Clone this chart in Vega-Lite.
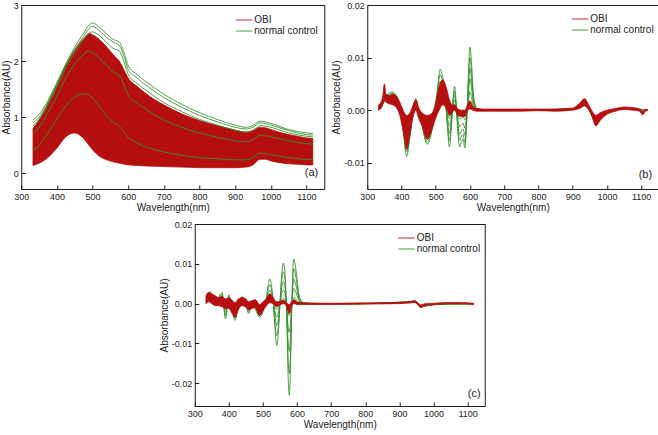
{
  "$schema": "https://vega.github.io/schema/vega-lite/v6.json",
  "padding": 0,
  "autosize": {"type": "pad"},
  "background": "white",
  "config": {
    "font": "Liberation Sans",
    "view": {"stroke": "#1a1a1a", "strokeWidth": 1},
    "axis": {"domain": false, "grid": false, "ticks": true, "tickColor": "#1a1a1a", "tickSize": -4, "labelPadding": 7, "labelFontSize": 9, "labelColor": "#222", "labelFlush": false, "labelOverlap": false, "titleFontSize": 10, "titleFontWeight": "normal", "titleColor": "#222"},
    "axisX": {"titlePadding": 1, "format": "d"},
    "axisY": {"titlePadding": 2},
    "legend": {"orient": "none", "symbolType": "M-1,0H2", "symbolStrokeWidth": 1, "symbolSize": 121, "labelFontSize": 10, "labelColor": "#222", "rowPadding": 0, "padding": 0, "labelOffset": 7},
    "line": {"strokeWidth": 0.9, "interpolate": "monotone"}
  },
  "datasets": {
    "aBand": [{"w":333,"lo":0.14,"hi":0.8},{"w":350,"lo":0.18,"hi":0.95},{"w":375,"lo":0.28,"hi":1.25},{"w":400,"lo":0.45,"hi":1.58},{"w":425,"lo":0.65,"hi":1.93},{"w":450,"lo":0.72,"hi":2.2},{"w":475,"lo":0.62,"hi":2.4},{"w":490,"lo":0.5,"hi":2.49},{"w":500,"lo":0.42,"hi":2.47},{"w":520,"lo":0.3,"hi":2.38},{"w":540,"lo":0.24,"hi":2.25},{"w":560,"lo":0.2,"hi":2.1},{"w":575,"lo":0.18,"hi":2.0},{"w":590,"lo":0.16,"hi":1.82},{"w":600,"lo":0.15,"hi":1.7},{"w":625,"lo":0.14,"hi":1.55},{"w":650,"lo":0.13,"hi":1.42},{"w":700,"lo":0.12,"hi":1.22},{"w":750,"lo":0.11,"hi":1.06},{"w":800,"lo":0.1,"hi":0.94},{"w":850,"lo":0.1,"hi":0.85},{"w":900,"lo":0.1,"hi":0.77},{"w":930,"lo":0.11,"hi":0.73},{"w":950,"lo":0.15,"hi":0.76},{"w":970,"lo":0.25,"hi":0.82},{"w":985,"lo":0.25,"hi":0.81},{"w":1000,"lo":0.22,"hi":0.78},{"w":1025,"lo":0.19,"hi":0.73},{"w":1050,"lo":0.17,"hi":0.69},{"w":1075,"lo":0.16,"hi":0.66},{"w":1100,"lo":0.15,"hi":0.63},{"w":1118,"lo":0.15,"hi":0.62}],
    "aLines": [
      {"s":1,"w":333,"v":0.95},{"s":1,"w":350,"v":1.05},{"s":1,"w":375,"v":1.3},{"s":1,"w":400,"v":1.62},{"s":1,"w":425,"v":1.95},{"s":1,"w":450,"v":2.25},{"s":1,"w":475,"v":2.5},{"s":1,"w":490,"v":2.64},{"s":1,"w":500,"v":2.68},{"s":1,"w":520,"v":2.6},{"s":1,"w":540,"v":2.48},{"s":1,"w":560,"v":2.38},{"s":1,"w":575,"v":2.34},{"s":1,"w":590,"v":2.12},{"s":1,"w":600,"v":1.92},{"s":1,"w":625,"v":1.76},{"s":1,"w":650,"v":1.63},{"s":1,"w":700,"v":1.41},{"s":1,"w":750,"v":1.23},{"s":1,"w":800,"v":1.08},{"s":1,"w":850,"v":0.96},{"s":1,"w":900,"v":0.86},{"s":1,"w":930,"v":0.82},{"s":1,"w":950,"v":0.85},{"s":1,"w":970,"v":0.93},{"s":1,"w":1000,"v":0.89},{"s":1,"w":1050,"v":0.78},{"s":1,"w":1100,"v":0.72},{"s":1,"w":1118,"v":0.71},
      {"s":2,"w":333,"v":0.9},{"s":2,"w":350,"v":1.0},{"s":2,"w":375,"v":1.26},{"s":2,"w":400,"v":1.58},{"s":2,"w":425,"v":1.92},{"s":2,"w":450,"v":2.2},{"s":2,"w":475,"v":2.44},{"s":2,"w":490,"v":2.58},{"s":2,"w":500,"v":2.62},{"s":2,"w":520,"v":2.54},{"s":2,"w":540,"v":2.42},{"s":2,"w":560,"v":2.33},{"s":2,"w":575,"v":2.28},{"s":2,"w":590,"v":2.05},{"s":2,"w":600,"v":1.85},{"s":2,"w":625,"v":1.7},{"s":2,"w":650,"v":1.57},{"s":2,"w":700,"v":1.35},{"s":2,"w":750,"v":1.18},{"s":2,"w":800,"v":1.03},{"s":2,"w":850,"v":0.92},{"s":2,"w":900,"v":0.82},{"s":2,"w":930,"v":0.79},{"s":2,"w":950,"v":0.82},{"s":2,"w":970,"v":0.9},{"s":2,"w":1000,"v":0.86},{"s":2,"w":1050,"v":0.76},{"s":2,"w":1100,"v":0.69},{"s":2,"w":1118,"v":0.68},
      {"s":3,"w":333,"v":0.85},{"s":3,"w":350,"v":0.96},{"s":3,"w":375,"v":1.22},{"s":3,"w":400,"v":1.54},{"s":3,"w":425,"v":1.88},{"s":3,"w":450,"v":2.15},{"s":3,"w":475,"v":2.38},{"s":3,"w":490,"v":2.5},{"s":3,"w":500,"v":2.52},{"s":3,"w":520,"v":2.45},{"s":3,"w":540,"v":2.33},{"s":3,"w":560,"v":2.22},{"s":3,"w":575,"v":2.18},{"s":3,"w":590,"v":1.95},{"s":3,"w":600,"v":1.76},{"s":3,"w":625,"v":1.6},{"s":3,"w":650,"v":1.48},{"s":3,"w":700,"v":1.26},{"s":3,"w":750,"v":1.1},{"s":3,"w":800,"v":0.96},{"s":3,"w":850,"v":0.86},{"s":3,"w":900,"v":0.77},{"s":3,"w":930,"v":0.74},{"s":3,"w":950,"v":0.77},{"s":3,"w":970,"v":0.85},{"s":3,"w":1000,"v":0.82},{"s":3,"w":1050,"v":0.72},{"s":3,"w":1100,"v":0.66},{"s":3,"w":1118,"v":0.65},
      {"s":4,"w":333,"v":0.7},{"s":4,"w":350,"v":0.82},{"s":4,"w":375,"v":1.08},{"s":4,"w":400,"v":1.38},{"s":4,"w":425,"v":1.7},{"s":4,"w":450,"v":1.95},{"s":4,"w":475,"v":2.12},{"s":4,"w":490,"v":2.18},{"s":4,"w":500,"v":2.15},{"s":4,"w":520,"v":2.05},{"s":4,"w":540,"v":1.92},{"s":4,"w":560,"v":1.8},{"s":4,"w":575,"v":1.75},{"s":4,"w":590,"v":1.55},{"s":4,"w":600,"v":1.4},{"s":4,"w":625,"v":1.25},{"s":4,"w":650,"v":1.14},{"s":4,"w":700,"v":0.95},{"s":4,"w":750,"v":0.82},{"s":4,"w":800,"v":0.72},{"s":4,"w":850,"v":0.64},{"s":4,"w":900,"v":0.58},{"s":4,"w":930,"v":0.56},{"s":4,"w":950,"v":0.6},{"s":4,"w":970,"v":0.68},{"s":4,"w":1000,"v":0.65},{"s":4,"w":1050,"v":0.58},{"s":4,"w":1100,"v":0.53},{"s":4,"w":1118,"v":0.52},
      {"s":6,"w":333,"v":0.4},{"s":6,"w":350,"v":0.5},{"s":6,"w":375,"v":0.72},{"s":6,"w":400,"v":0.97},{"s":6,"w":425,"v":1.2},{"s":6,"w":450,"v":1.36},{"s":6,"w":475,"v":1.42},{"s":6,"w":490,"v":1.4},{"s":6,"w":500,"v":1.34},{"s":6,"w":520,"v":1.18},{"s":6,"w":540,"v":1.02},{"s":6,"w":560,"v":0.9},{"s":6,"w":575,"v":0.84},{"s":6,"w":590,"v":0.72},{"s":6,"w":600,"v":0.64},{"s":6,"w":625,"v":0.54},{"s":6,"w":650,"v":0.47},{"s":6,"w":700,"v":0.38},{"s":6,"w":750,"v":0.32},{"s":6,"w":800,"v":0.28},{"s":6,"w":850,"v":0.26},{"s":6,"w":900,"v":0.24},{"s":6,"w":930,"v":0.24},{"s":6,"w":950,"v":0.28},{"s":6,"w":970,"v":0.36},{"s":6,"w":1000,"v":0.33},{"s":6,"w":1050,"v":0.28},{"s":6,"w":1100,"v":0.25},{"s":6,"w":1118,"v":0.25}
    ],
    "bBand": [{"w":333,"lo":0.0,"hi":0.001},{"w":340,"lo":0.0003,"hi":0.0015},{"w":345,"lo":0.001,"hi":0.0025},{"w":350,"lo":0.0018,"hi":0.005},{"w":355,"lo":0.0015,"hi":0.003},{"w":365,"lo":0.0012,"hi":0.0028},{"w":375,"lo":0.001,"hi":0.003},{"w":385,"lo":0.0005,"hi":0.0027},{"w":395,"lo":-0.001,"hi":0.0015},{"w":405,"lo":-0.004,"hi":0.0},{"w":415,"lo":-0.0075,"hi":-0.001},{"w":425,"lo":-0.0045,"hi":-0.0005},{"w":435,"lo":-0.001,"hi":0.0012},{"w":442,"lo":0.0,"hi":0.002},{"w":450,"lo":-0.0015,"hi":0.0005},{"w":460,"lo":-0.003,"hi":-0.0005},{"w":475,"lo":-0.0055,"hi":-0.001},{"w":490,"lo":-0.0035,"hi":-0.0005},{"w":500,"lo":-0.0015,"hi":0.0015},{"w":510,"lo":0.0,"hi":0.0045},{"w":520,"lo":0.001,"hi":0.0058},{"w":530,"lo":0.0005,"hi":0.0045},{"w":540,"lo":-0.001,"hi":0.002},{"w":548,"lo":-0.0005,"hi":0.001},{"w":555,"lo":0.0,"hi":0.001},{"w":565,"lo":-0.001,"hi":0.0002},{"w":575,"lo":-0.0012,"hi":0.0},{"w":585,"lo":-0.0012,"hi":0.0},{"w":592,"lo":-0.0002,"hi":0.0008},{"w":600,"lo":0.0002,"hi":0.0018},{"w":608,"lo":0.0,"hi":0.0008},{"w":620,"lo":-0.0002,"hi":0.0003},{"w":650,"lo":-0.0002,"hi":0.0002},{"w":700,"lo":-0.0002,"hi":0.0002},{"w":750,"lo":-0.0002,"hi":0.0002},{"w":800,"lo":-0.0001,"hi":0.0002},{"w":850,"lo":-0.0002,"hi":0.0002},{"w":900,"lo":0.0,"hi":0.0004},{"w":920,"lo":0.0003,"hi":0.0013},{"w":935,"lo":0.0008,"hi":0.0022},{"w":945,"lo":0.0002,"hi":0.0012},{"w":955,"lo":-0.001,"hi":0.0},{"w":968,"lo":-0.003,"hi":-0.001},{"w":980,"lo":-0.002,"hi":-0.0005},{"w":1000,"lo":-0.0008,"hi":0.0},{"w":1025,"lo":-0.0002,"hi":0.0003},{"w":1050,"lo":0.0001,"hi":0.0006},{"w":1075,"lo":0.0,"hi":0.0005},{"w":1095,"lo":-0.0002,"hi":0.0002},{"w":1105,"lo":-0.0009,"hi":-0.0002},{"w":1112,"lo":-0.0002,"hi":0.0001},{"w":1118,"lo":-0.0001,"hi":0.0002}],
    "bLines": [
      {"s":1,"w":333,"v":0.0003},{"s":1,"w":340,"v":0.001},{"s":1,"w":350,"v":0.0025},{"s":1,"w":360,"v":0.003},{"s":1,"w":372,"v":0.0035},{"s":1,"w":385,"v":0.0028},{"s":1,"w":395,"v":0.0005},{"s":1,"w":405,"v":-0.004},{"s":1,"w":415,"v":-0.0088},{"s":1,"w":425,"v":-0.005},{"s":1,"w":435,"v":0.0005},{"s":1,"w":442,"v":0.0022},{"s":1,"w":450,"v":0.0},{"s":1,"w":460,"v":-0.003},{"s":1,"w":475,"v":-0.0065},{"s":1,"w":490,"v":-0.0035},{"s":1,"w":500,"v":0.001},{"s":1,"w":505,"v":0.004},{"s":1,"w":510,"v":0.007},{"s":1,"w":513,"v":0.0078},{"s":1,"w":518,"v":0.007},{"s":1,"w":525,"v":0.0045},{"s":1,"w":530,"v":0.001},{"s":1,"w":535,"v":-0.004},{"s":1,"w":540,"v":-0.007},{"s":1,"w":545,"v":-0.004},{"s":1,"w":550,"v":0.0015},{"s":1,"w":555,"v":0.0045},{"s":1,"w":560,"v":0.001},{"s":1,"w":565,"v":-0.0045},{"s":1,"w":570,"v":-0.007},{"s":1,"w":575,"v":-0.006},{"s":1,"w":580,"v":-0.0055},{"s":1,"w":585,"v":-0.0072},{"s":1,"w":590,"v":-0.003},{"s":1,"w":595,"v":0.006},{"s":1,"w":600,"v":0.012},{"s":1,"w":605,"v":0.0085},{"s":1,"w":610,"v":0.003},{"s":1,"w":620,"v":0.0004},{"s":1,"w":650,"v":0.0},{"s":1,"w":800,"v":0.0001},{"s":1,"w":900,"v":0.0002},{"s":1,"w":935,"v":0.0016},{"s":1,"w":968,"v":-0.0022},{"s":1,"w":1000,"v":-0.0005},{"s":1,"w":1050,"v":0.0004},{"s":1,"w":1118,"v":0.0},
      {"s":2,"w":333,"v":0.0002},{"s":2,"w":340,"v":0.0008},{"s":2,"w":350,"v":0.0022},{"s":2,"w":360,"v":0.0028},{"s":2,"w":372,"v":0.0032},{"s":2,"w":385,"v":0.0025},{"s":2,"w":395,"v":0.0003},{"s":2,"w":405,"v":-0.0036},{"s":2,"w":415,"v":-0.008},{"s":2,"w":425,"v":-0.0045},{"s":2,"w":435,"v":0.0003},{"s":2,"w":442,"v":0.0018},{"s":2,"w":450,"v":-0.0003},{"s":2,"w":460,"v":-0.0028},{"s":2,"w":475,"v":-0.006},{"s":2,"w":490,"v":-0.0032},{"s":2,"w":500,"v":0.0008},{"s":2,"w":505,"v":0.0035},{"s":2,"w":510,"v":0.006},{"s":2,"w":513,"v":0.0068},{"s":2,"w":518,"v":0.006},{"s":2,"w":525,"v":0.0038},{"s":2,"w":530,"v":0.0008},{"s":2,"w":535,"v":-0.0032},{"s":2,"w":540,"v":-0.0058},{"s":2,"w":545,"v":-0.0032},{"s":2,"w":550,"v":0.0012},{"s":2,"w":555,"v":0.0036},{"s":2,"w":560,"v":0.0008},{"s":2,"w":565,"v":-0.0036},{"s":2,"w":570,"v":-0.0058},{"s":2,"w":575,"v":-0.005},{"s":2,"w":580,"v":-0.0046},{"s":2,"w":585,"v":-0.0062},{"s":2,"w":590,"v":-0.0025},{"s":2,"w":595,"v":0.0048},{"s":2,"w":600,"v":0.01},{"s":2,"w":605,"v":0.007},{"s":2,"w":610,"v":0.0025},{"s":2,"w":620,"v":0.0003},{"s":2,"w":650,"v":0.0},{"s":2,"w":800,"v":0.0001},{"s":2,"w":900,"v":0.0002},{"s":2,"w":935,"v":0.0014},{"s":2,"w":968,"v":-0.002},{"s":2,"w":1000,"v":-0.0004},{"s":2,"w":1050,"v":0.0004},{"s":2,"w":1118,"v":0.0},
      {"s":3,"w":333,"v":0.0002},{"s":3,"w":340,"v":0.0007},{"s":3,"w":350,"v":0.002},{"s":3,"w":360,"v":0.0026},{"s":3,"w":372,"v":0.003},{"s":3,"w":385,"v":0.0024},{"s":3,"w":395,"v":0.0002},{"s":3,"w":405,"v":-0.0032},{"s":3,"w":415,"v":-0.0072},{"s":3,"w":425,"v":-0.004},{"s":3,"w":435,"v":0.0002},{"s":3,"w":442,"v":0.0015},{"s":3,"w":450,"v":-0.0005},{"s":3,"w":460,"v":-0.0026},{"s":3,"w":475,"v":-0.0056},{"s":3,"w":490,"v":-0.003},{"s":3,"w":500,"v":0.0006},{"s":3,"w":505,"v":0.0028},{"s":3,"w":510,"v":0.0048},{"s":3,"w":513,"v":0.0055},{"s":3,"w":518,"v":0.005},{"s":3,"w":525,"v":0.0032},{"s":3,"w":530,"v":0.0006},{"s":3,"w":535,"v":-0.0024},{"s":3,"w":540,"v":-0.0045},{"s":3,"w":545,"v":-0.0024},{"s":3,"w":550,"v":0.0009},{"s":3,"w":555,"v":0.0028},{"s":3,"w":560,"v":0.0006},{"s":3,"w":565,"v":-0.0028},{"s":3,"w":570,"v":-0.0046},{"s":3,"w":575,"v":-0.004},{"s":3,"w":580,"v":-0.0036},{"s":3,"w":585,"v":-0.0048},{"s":3,"w":590,"v":-0.0018},{"s":3,"w":595,"v":0.0036},{"s":3,"w":600,"v":0.008},{"s":3,"w":605,"v":0.0056},{"s":3,"w":610,"v":0.002},{"s":3,"w":620,"v":0.0002},{"s":3,"w":650,"v":0.0},{"s":3,"w":800,"v":0.0001},{"s":3,"w":900,"v":0.0002},{"s":3,"w":935,"v":0.0013},{"s":3,"w":968,"v":-0.0019},{"s":3,"w":1000,"v":-0.0004},{"s":3,"w":1050,"v":0.0003},{"s":3,"w":1118,"v":0.0},
      {"s":4,"w":333,"v":0.0001},{"s":4,"w":340,"v":0.0006},{"s":4,"w":350,"v":0.0018},{"s":4,"w":360,"v":0.0024},{"s":4,"w":372,"v":0.0028},{"s":4,"w":385,"v":0.0022},{"s":4,"w":395,"v":0.0001},{"s":4,"w":405,"v":-0.0028},{"s":4,"w":415,"v":-0.0064},{"s":4,"w":425,"v":-0.0036},{"s":4,"w":435,"v":0.0001},{"s":4,"w":442,"v":0.0012},{"s":4,"w":450,"v":-0.0007},{"s":4,"w":460,"v":-0.0024},{"s":4,"w":475,"v":-0.005},{"s":4,"w":490,"v":-0.0028},{"s":4,"w":500,"v":0.0005},{"s":4,"w":505,"v":0.0022},{"s":4,"w":510,"v":0.0038},{"s":4,"w":513,"v":0.0043},{"s":4,"w":518,"v":0.004},{"s":4,"w":525,"v":0.0026},{"s":4,"w":530,"v":0.0004},{"s":4,"w":535,"v":-0.0016},{"s":4,"w":540,"v":-0.003},{"s":4,"w":545,"v":-0.0016},{"s":4,"w":550,"v":0.0006},{"s":4,"w":555,"v":0.0019},{"s":4,"w":560,"v":0.0004},{"s":4,"w":565,"v":-0.0019},{"s":4,"w":570,"v":-0.0032},{"s":4,"w":575,"v":-0.0028},{"s":4,"w":580,"v":-0.0025},{"s":4,"w":585,"v":-0.0034},{"s":4,"w":590,"v":-0.0012},{"s":4,"w":595,"v":0.0026},{"s":4,"w":600,"v":0.006},{"s":4,"w":605,"v":0.004},{"s":4,"w":610,"v":0.0014},{"s":4,"w":620,"v":0.0002},{"s":4,"w":650,"v":0.0},{"s":4,"w":800,"v":0.0001},{"s":4,"w":900,"v":0.0002},{"s":4,"w":935,"v":0.0012},{"s":4,"w":968,"v":-0.0018},{"s":4,"w":1000,"v":-0.0004},{"s":4,"w":1050,"v":0.0003},{"s":4,"w":1118,"v":0.0},
      {"s":5,"w":333,"v":0.0001},{"s":5,"w":340,"v":0.0005},{"s":5,"w":350,"v":0.0016},{"s":5,"w":360,"v":0.0022},{"s":5,"w":372,"v":0.0026},{"s":5,"w":385,"v":0.002},{"s":5,"w":395,"v":0.0},{"s":5,"w":405,"v":-0.0024},{"s":5,"w":415,"v":-0.0055},{"s":5,"w":425,"v":-0.0032},{"s":5,"w":435,"v":0.0},{"s":5,"w":442,"v":0.001},{"s":5,"w":450,"v":-0.0008},{"s":5,"w":460,"v":-0.0022},{"s":5,"w":475,"v":-0.0045},{"s":5,"w":490,"v":-0.0026},{"s":5,"w":500,"v":0.0004},{"s":5,"w":505,"v":0.0016},{"s":5,"w":510,"v":0.0028},{"s":5,"w":513,"v":0.0032},{"s":5,"w":518,"v":0.003},{"s":5,"w":525,"v":0.002},{"s":5,"w":530,"v":0.0003},{"s":5,"w":535,"v":-0.0008},{"s":5,"w":540,"v":-0.0016},{"s":5,"w":545,"v":-0.0008},{"s":5,"w":550,"v":0.0004},{"s":5,"w":555,"v":0.001},{"s":5,"w":560,"v":0.0002},{"s":5,"w":565,"v":-0.001},{"s":5,"w":570,"v":-0.0017},{"s":5,"w":575,"v":-0.0015},{"s":5,"w":580,"v":-0.0013},{"s":5,"w":585,"v":-0.0018},{"s":5,"w":590,"v":-0.0006},{"s":5,"w":595,"v":0.0014},{"s":5,"w":600,"v":0.0035},{"s":5,"w":605,"v":0.0022},{"s":5,"w":610,"v":0.0008},{"s":5,"w":620,"v":0.0001},{"s":5,"w":650,"v":0.0},{"s":5,"w":800,"v":0.0001},{"s":5,"w":900,"v":0.0002},{"s":5,"w":935,"v":0.0011},{"s":5,"w":968,"v":-0.0017},{"s":5,"w":1000,"v":-0.0004},{"s":5,"w":1050,"v":0.0003},{"s":5,"w":1118,"v":0.0}
    ],
    "cBand": [{"w":333,"lo":0.0,"hi":0.002},{"w":340,"lo":0.0005,"hi":0.0028},{"w":350,"lo":0.0,"hi":0.0025},{"w":360,"lo":-0.0005,"hi":0.002},{"w":370,"lo":-0.0005,"hi":0.0015},{"w":380,"lo":-0.0008,"hi":0.0018},{"w":390,"lo":-0.0012,"hi":0.0012},{"w":400,"lo":-0.0012,"hi":0.0015},{"w":410,"lo":-0.0025,"hi":0.0008},{"w":418,"lo":-0.0035,"hi":0.0002},{"w":428,"lo":-0.0015,"hi":0.0012},{"w":438,"lo":-0.0005,"hi":0.0015},{"w":448,"lo":-0.0008,"hi":0.0013},{"w":458,"lo":-0.0015,"hi":0.0005},{"w":468,"lo":-0.0012,"hi":0.0008},{"w":478,"lo":-0.001,"hi":0.001},{"w":490,"lo":-0.003,"hi":-0.0002},{"w":500,"lo":-0.0018,"hi":0.0005},{"w":510,"lo":-0.0005,"hi":0.0012},{"w":520,"lo":0.0002,"hi":0.0025},{"w":530,"lo":0.0,"hi":0.0015},{"w":540,"lo":-0.0008,"hi":0.0005},{"w":550,"lo":-0.0003,"hi":0.0006},{"w":560,"lo":0.0,"hi":0.0009},{"w":568,"lo":-0.0005,"hi":0.0003},{"w":577,"lo":-0.0025,"hi":-0.0002},{"w":585,"lo":-0.0003,"hi":0.0006},{"w":592,"lo":0.0,"hi":0.001},{"w":600,"lo":-0.0002,"hi":0.0004},{"w":620,"lo":-0.0002,"hi":0.0002},{"w":700,"lo":-0.0002,"hi":0.0001},{"w":800,"lo":-0.0001,"hi":0.0002},{"w":900,"lo":0.0,"hi":0.0003},{"w":935,"lo":0.0002,"hi":0.0006},{"w":945,"lo":0.0003,"hi":0.0008},{"w":952,"lo":0.0,"hi":0.0004},{"w":962,"lo":-0.001,"hi":-0.0003},{"w":975,"lo":-0.0005,"hi":0.0},{"w":1000,"lo":-0.0003,"hi":0.0001},{"w":1050,"lo":0.0,"hi":0.0003},{"w":1100,"lo":-0.0001,"hi":0.0002},{"w":1118,"lo":-0.0002,"hi":0.0001}],
    "cLines": [
      {"s":1,"w":333,"v":0.001},{"s":1,"w":345,"v":0.003},{"s":1,"w":355,"v":0.0015},{"s":1,"w":365,"v":0.0005},{"s":1,"w":372,"v":0.002},{"s":1,"w":380,"v":0.0028},{"s":1,"w":390,"v":-0.0038},{"s":1,"w":400,"v":0.0022},{"s":1,"w":410,"v":-0.002},{"s":1,"w":418,"v":-0.0042},{"s":1,"w":428,"v":-0.0005},{"s":1,"w":438,"v":0.0018},{"s":1,"w":448,"v":0.0005},{"s":1,"w":458,"v":-0.0025},{"s":1,"w":468,"v":0.0},{"s":1,"w":478,"v":-0.0015},{"s":1,"w":490,"v":-0.0035},{"s":1,"w":500,"v":-0.002},{"s":1,"w":510,"v":0.0015},{"s":1,"w":515,"v":0.0045},{"s":1,"w":520,"v":0.0062},{"s":1,"w":525,"v":0.0045},{"s":1,"w":530,"v":0.0005},{"s":1,"w":535,"v":-0.006},{"s":1,"w":540,"v":-0.0105},{"s":1,"w":545,"v":-0.0075},{"s":1,"w":550,"v":0.0005},{"s":1,"w":555,"v":0.0075},{"s":1,"w":560,"v":0.0102},{"s":1,"w":565,"v":0.007},{"s":1,"w":570,"v":-0.005},{"s":1,"w":574,"v":-0.019},{"s":1,"w":577,"v":-0.023},{"s":1,"w":580,"v":-0.018},{"s":1,"w":585,"v":0.001},{"s":1,"w":590,"v":0.0112},{"s":1,"w":595,"v":0.0095},{"s":1,"w":600,"v":0.006},{"s":1,"w":605,"v":0.0025},{"s":1,"w":610,"v":0.001},{"s":1,"w":620,"v":0.0002},{"s":1,"w":650,"v":0.0},{"s":1,"w":800,"v":0.0},{"s":1,"w":945,"v":0.0005},{"s":1,"w":962,"v":-0.0008},{"s":1,"w":1000,"v":-0.0002},{"s":1,"w":1118,"v":0.0},
      {"s":2,"w":333,"v":0.0008},{"s":2,"w":345,"v":0.0026},{"s":2,"w":355,"v":0.0012},{"s":2,"w":365,"v":0.0003},{"s":2,"w":372,"v":0.0016},{"s":2,"w":380,"v":0.0024},{"s":2,"w":390,"v":-0.003},{"s":2,"w":400,"v":0.0018},{"s":2,"w":410,"v":-0.0016},{"s":2,"w":418,"v":-0.0036},{"s":2,"w":428,"v":-0.0004},{"s":2,"w":438,"v":0.0015},{"s":2,"w":448,"v":0.0004},{"s":2,"w":458,"v":-0.0021},{"s":2,"w":468,"v":0.0},{"s":2,"w":478,"v":-0.0012},{"s":2,"w":490,"v":-0.003},{"s":2,"w":500,"v":-0.0016},{"s":2,"w":510,"v":0.0012},{"s":2,"w":515,"v":0.0035},{"s":2,"w":520,"v":0.0048},{"s":2,"w":525,"v":0.0035},{"s":2,"w":530,"v":0.0004},{"s":2,"w":535,"v":-0.0045},{"s":2,"w":540,"v":-0.008},{"s":2,"w":545,"v":-0.0056},{"s":2,"w":550,"v":0.0004},{"s":2,"w":555,"v":0.0058},{"s":2,"w":560,"v":0.008},{"s":2,"w":565,"v":0.0055},{"s":2,"w":570,"v":-0.0036},{"s":2,"w":574,"v":-0.0145},{"s":2,"w":577,"v":-0.0175},{"s":2,"w":580,"v":-0.0135},{"s":2,"w":585,"v":0.0008},{"s":2,"w":590,"v":0.0088},{"s":2,"w":595,"v":0.0075},{"s":2,"w":600,"v":0.0046},{"s":2,"w":605,"v":0.0019},{"s":2,"w":610,"v":0.0007},{"s":2,"w":620,"v":0.0001},{"s":2,"w":650,"v":0.0},{"s":2,"w":800,"v":0.0},{"s":2,"w":945,"v":0.0005},{"s":2,"w":962,"v":-0.0008},{"s":2,"w":1000,"v":-0.0002},{"s":2,"w":1118,"v":0.0},
      {"s":3,"w":333,"v":0.0006},{"s":3,"w":345,"v":0.0022},{"s":3,"w":355,"v":0.001},{"s":3,"w":365,"v":0.0002},{"s":3,"w":372,"v":0.0012},{"s":3,"w":380,"v":0.002},{"s":3,"w":390,"v":-0.0022},{"s":3,"w":400,"v":0.0014},{"s":3,"w":410,"v":-0.0012},{"s":3,"w":418,"v":-0.003},{"s":3,"w":428,"v":-0.0003},{"s":3,"w":438,"v":0.0012},{"s":3,"w":448,"v":0.0003},{"s":3,"w":458,"v":-0.0017},{"s":3,"w":468,"v":0.0},{"s":3,"w":478,"v":-0.001},{"s":3,"w":490,"v":-0.0026},{"s":3,"w":500,"v":-0.0012},{"s":3,"w":510,"v":0.0008},{"s":3,"w":515,"v":0.0024},{"s":3,"w":520,"v":0.0034},{"s":3,"w":525,"v":0.0024},{"s":3,"w":530,"v":0.0003},{"s":3,"w":535,"v":-0.003},{"s":3,"w":540,"v":-0.0055},{"s":3,"w":545,"v":-0.0038},{"s":3,"w":550,"v":0.0003},{"s":3,"w":555,"v":0.004},{"s":3,"w":560,"v":0.0056},{"s":3,"w":565,"v":0.0038},{"s":3,"w":570,"v":-0.0024},{"s":3,"w":574,"v":-0.01},{"s":3,"w":577,"v":-0.012},{"s":3,"w":580,"v":-0.0092},{"s":3,"w":585,"v":0.0006},{"s":3,"w":590,"v":0.0062},{"s":3,"w":595,"v":0.0052},{"s":3,"w":600,"v":0.0032},{"s":3,"w":605,"v":0.0013},{"s":3,"w":610,"v":0.0005},{"s":3,"w":620,"v":0.0001},{"s":3,"w":650,"v":0.0},{"s":3,"w":800,"v":0.0},{"s":3,"w":945,"v":0.0004},{"s":3,"w":962,"v":-0.0007},{"s":3,"w":1000,"v":-0.0002},{"s":3,"w":1118,"v":0.0},
      {"s":4,"w":333,"v":0.0004},{"s":4,"w":345,"v":0.0018},{"s":4,"w":355,"v":0.0008},{"s":4,"w":365,"v":0.0001},{"s":4,"w":372,"v":0.0009},{"s":4,"w":380,"v":0.0016},{"s":4,"w":390,"v":-0.0015},{"s":4,"w":400,"v":0.0011},{"s":4,"w":410,"v":-0.0009},{"s":4,"w":418,"v":-0.0024},{"s":4,"w":428,"v":-0.0002},{"s":4,"w":438,"v":0.001},{"s":4,"w":448,"v":0.0002},{"s":4,"w":458,"v":-0.0014},{"s":4,"w":468,"v":0.0},{"s":4,"w":478,"v":-0.0008},{"s":4,"w":490,"v":-0.0022},{"s":4,"w":500,"v":-0.0009},{"s":4,"w":510,"v":0.0005},{"s":4,"w":515,"v":0.0015},{"s":4,"w":520,"v":0.0022},{"s":4,"w":525,"v":0.0015},{"s":4,"w":530,"v":0.0002},{"s":4,"w":535,"v":-0.0018},{"s":4,"w":540,"v":-0.0034},{"s":4,"w":545,"v":-0.0023},{"s":4,"w":550,"v":0.0002},{"s":4,"w":555,"v":0.0025},{"s":4,"w":560,"v":0.0034},{"s":4,"w":565,"v":0.0023},{"s":4,"w":570,"v":-0.0014},{"s":4,"w":574,"v":-0.006},{"s":4,"w":577,"v":-0.0072},{"s":4,"w":580,"v":-0.0055},{"s":4,"w":585,"v":0.0004},{"s":4,"w":590,"v":0.0038},{"s":4,"w":595,"v":0.0032},{"s":4,"w":600,"v":0.002},{"s":4,"w":605,"v":0.0008},{"s":4,"w":610,"v":0.0003},{"s":4,"w":620,"v":0.0001},{"s":4,"w":650,"v":0.0},{"s":4,"w":800,"v":0.0},{"s":4,"w":945,"v":0.0004},{"s":4,"w":962,"v":-0.0007},{"s":4,"w":1000,"v":-0.0002},{"s":4,"w":1118,"v":0.0},
      {"s":5,"w":333,"v":0.0003},{"s":5,"w":345,"v":0.0014},{"s":5,"w":355,"v":0.0006},{"s":5,"w":365,"v":0.0},{"s":5,"w":372,"v":0.0006},{"s":5,"w":380,"v":0.0012},{"s":5,"w":390,"v":-0.001},{"s":5,"w":400,"v":0.0008},{"s":5,"w":410,"v":-0.0006},{"s":5,"w":418,"v":-0.0018},{"s":5,"w":428,"v":-0.0001},{"s":5,"w":438,"v":0.0008},{"s":5,"w":448,"v":0.0001},{"s":5,"w":458,"v":-0.0011},{"s":5,"w":468,"v":0.0},{"s":5,"w":478,"v":-0.0006},{"s":5,"w":490,"v":-0.0018},{"s":5,"w":500,"v":-0.0006},{"s":5,"w":510,"v":0.0003},{"s":5,"w":515,"v":0.0008},{"s":5,"w":520,"v":0.001},{"s":5,"w":525,"v":0.0007},{"s":5,"w":530,"v":0.0001},{"s":5,"w":535,"v":-0.0008},{"s":5,"w":540,"v":-0.0014},{"s":5,"w":545,"v":-0.001},{"s":5,"w":550,"v":0.0001},{"s":5,"w":555,"v":0.001},{"s":5,"w":560,"v":0.0014},{"s":5,"w":565,"v":0.001},{"s":5,"w":570,"v":-0.0006},{"s":5,"w":574,"v":-0.0025},{"s":5,"w":577,"v":-0.003},{"s":5,"w":580,"v":-0.0022},{"s":5,"w":585,"v":0.0002},{"s":5,"w":590,"v":0.0015},{"s":5,"w":595,"v":0.0013},{"s":5,"w":600,"v":0.0008},{"s":5,"w":605,"v":0.0003},{"s":5,"w":610,"v":0.0001},{"s":5,"w":620,"v":0.0},{"s":5,"w":650,"v":0.0},{"s":5,"w":800,"v":0.0},{"s":5,"w":945,"v":0.0003},{"s":5,"w":962,"v":-0.0006},{"s":5,"w":1000,"v":-0.0002},{"s":5,"w":1118,"v":0.0}
    ]
  },
  "spacing": 6,
  "center": true,
  "resolve": {"scale": {"color": "independent"}, "legend": {"color": "independent"}},
  "vconcat": [
    {
      "spacing": 5,
      "resolve": {"scale": {"color": "independent"}, "legend": {"color": "independent"}},
      "hconcat": [
        {
          "width": 303,
          "height": 184,
          "encoding": {"x": {"field": "w", "type": "quantitative", "scale": {"domain": [300, 1150], "nice": false, "zero": false}, "axis": {"title": "Wavelength(nm)", "values": [300, 400, 500, 600, 700, 800, 900, 1000, 1100]}}},
          "layer": [
            {"data": {"name": "aBand"}, "mark": {"type": "area", "color": "#b5100f", "stroke": "#b5100f", "strokeWidth": 0.8, "interpolate": "monotone"}, "encoding": {"y": {"field": "lo", "type": "quantitative", "scale": {"domain": [-0.28, 3], "nice": false, "zero": false}, "axis": {"title": "Absorbance(AU)", "values": [0, 1, 2, 3], "format": "d"}}, "y2": {"field": "hi"}}},
            {"data": {"name": "aLines"}, "mark": {"type": "line"}, "encoding": {"y": {"field": "v", "type": "quantitative"}, "detail": {"field": "s", "type": "nominal"}, "color": {"datum": "normal control", "type": "nominal", "scale": {"domain": ["OBI", "normal control"], "range": ["#c0141a", "#3b9230"]}, "legend": {"title": null, "legendX": 214, "legendY": 9}}}},
            {"data": {"values": [{"w": 1133, "v": 0, "t": "(a)"}]}, "mark": {"type": "text", "align": "right", "baseline": "middle", "fontSize": 11, "color": "#222"}, "encoding": {"y": {"field": "v", "type": "quantitative"}, "text": {"field": "t"}}}
          ]
        },
        {
          "width": 291,
          "height": 184,
          "encoding": {"x": {"field": "w", "type": "quantitative", "scale": {"domain": [300, 1150], "nice": false, "zero": false}, "axis": {"title": "Wavelength(nm)", "values": [300, 400, 500, 600, 700, 800, 900, 1000, 1100]}}},
          "layer": [
            {"data": {"name": "bLines"}, "mark": {"type": "line"}, "encoding": {"y": {"field": "v", "type": "quantitative", "scale": {"domain": [-0.015, 0.02], "nice": false, "zero": false}, "axis": {"title": "Absorbance(AU)", "values": [-0.01, 0, 0.01, 0.02], "format": ".2f", "labelExpr": "replace(datum.label, '\u2212', '-')"}}, "detail": {"field": "s", "type": "nominal"}, "color": {"datum": "normal control", "type": "nominal", "scale": {"domain": ["OBI", "normal control"], "range": ["#c0141a", "#3b9230"]}, "legend": {"title": null, "legendX": 204, "legendY": 8}}}},
            {"data": {"name": "bBand"}, "mark": {"type": "area", "color": "#b5100f", "stroke": "#b5100f", "strokeWidth": 0.8, "interpolate": "monotone"}, "encoding": {"y": {"field": "lo", "type": "quantitative"}, "y2": {"field": "hi"}}},
            {"data": {"values": [{"w": 1132, "v": -0.01227, "t": "(b)"}]}, "mark": {"type": "text", "align": "right", "baseline": "middle", "fontSize": 11, "color": "#222"}, "encoding": {"y": {"field": "v", "type": "quantitative"}, "text": {"field": "t"}}}
          ]
        }
      ]
    },
    {
      "width": 290,
      "height": 182,
      "encoding": {"x": {"field": "w", "type": "quantitative", "scale": {"domain": [300, 1150], "nice": false, "zero": false}, "axis": {"title": "Wavelength(nm)", "values": [300, 400, 500, 600, 700, 800, 900, 1000, 1100]}}},
      "layer": [
        {"data": {"name": "cLines"}, "mark": {"type": "line"}, "encoding": {"y": {"field": "v", "type": "quantitative", "scale": {"domain": [-0.0257, 0.02], "nice": false, "zero": false}, "axis": {"title": "Absorbance(AU)", "values": [-0.02, -0.01, 0, 0.01, 0.02], "format": ".2f", "labelExpr": "replace(datum.label, '\u2212', '-')"}}, "detail": {"field": "s", "type": "nominal"}, "color": {"datum": "normal control", "type": "nominal", "scale": {"domain": ["OBI", "normal control"], "range": ["#c0141a", "#3b9230"]}, "legend": {"title": null, "legendX": 203, "legendY": 8}}}},
        {"data": {"name": "cBand"}, "mark": {"type": "area", "color": "#b5100f", "stroke": "#b5100f", "strokeWidth": 0.8, "interpolate": "monotone"}, "encoding": {"y": {"field": "lo", "type": "quantitative"}, "y2": {"field": "hi"}}},
        {"data": {"values": [{"w": 1138, "v": -0.02277, "t": "(c)"}]}, "mark": {"type": "text", "align": "right", "baseline": "middle", "fontSize": 11, "color": "#222"}, "encoding": {"y": {"field": "v", "type": "quantitative"}, "text": {"field": "t"}}}
      ]
    }
  ]
}
